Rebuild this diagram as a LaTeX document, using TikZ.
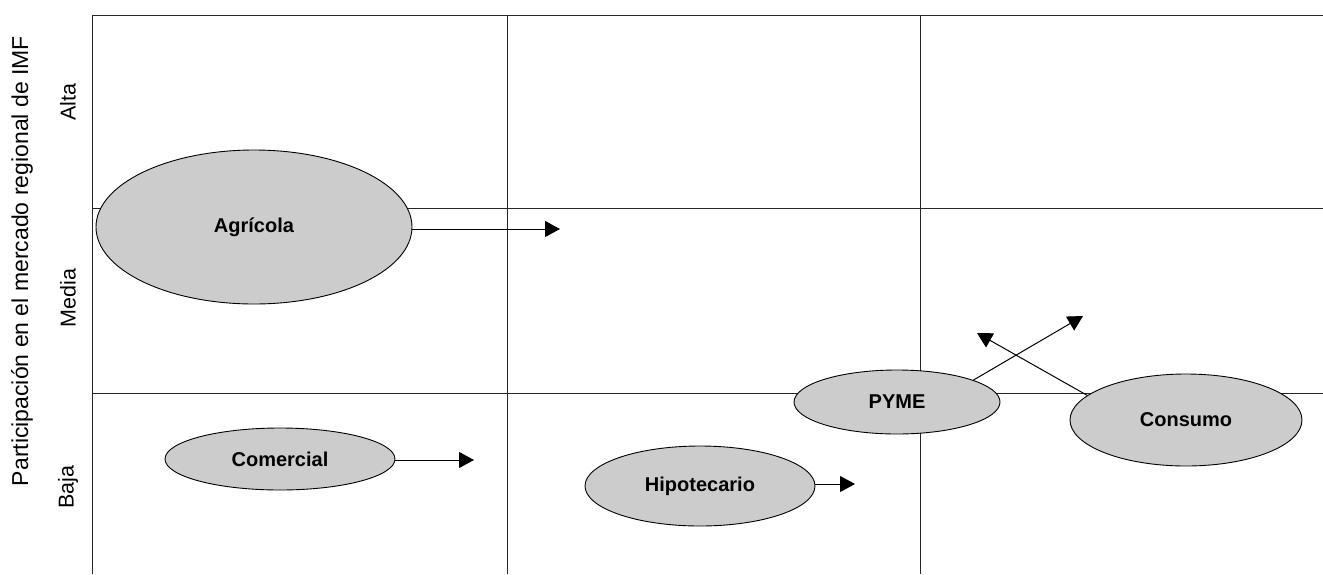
\documentclass[tikz,border=0pt]{standalone}
\usepackage{fontspec}
\setmainfont{Liberation Sans}
\usetikzlibrary{shapes.geometric,arrows.meta}
\begin{document}
\begin{tikzpicture}[x=1pt,y=-1pt,
 grid/.style={draw=black!85, line width=1pt},
 seg/.style={ellipse, draw=black, line width=0.9pt, fill=black!20, inner sep=0pt, font=\bfseries\fontsize{20}{23}\selectfont},
 arr/.style={draw=black, line width=1pt, -{Triangle[length=15pt,width=16pt]}},
 axl/.style={rotate=90, inner sep=0pt, font=\fontsize{21.5}{24}\selectfont}]
\useasboundingbox (0,0) rectangle (1323,574);
% grid
\draw[grid] (92,15) -- (1323,15);
\draw[grid] (92,208) -- (1323,208);
\draw[grid] (92,393) -- (1323,393);
\draw[grid] (92,15) -- (92,574);
\draw[grid] (507,15) -- (507,574);
\draw[grid] (920,15) -- (920,574);
% axis labels
\node[axl, font=\fontsize{23}{26}\selectfont] (ylab) at (22,261) {Participación en el mercado regional de IMF};
\node[axl] (alta) at (68,102) {Alta};
\node[axl] (media) at (68,298) {Media};
\node[axl] (baja) at (68,487) {Baja};
% segments
\node[seg, minimum width=316pt, minimum height=154pt] (agr) at (254,227) {Agrícola};
\node[seg, minimum width=230pt, minimum height=62pt] (com) at (280,459) {Comercial};
\node[seg, minimum width=230pt, minimum height=80pt] (hip) at (700,486) {Hipotecario};
\node[seg, minimum width=206pt, minimum height=64pt] (pyme) at (897,402) {PYME};
\node[seg, minimum width=232pt, minimum height=92pt] (cons) at (1186,420) {Consumo};
% arrow tips
\coordinate (tA) at (560,229);
\coordinate (tC) at (474,460);
\coordinate (tH) at (855,484);
\coordinate (tP) at (1083,316);
\coordinate (tK) at (977,333);
% arrows
\draw[arr] (agr.east |- tA) -- (tA);
\draw[arr] (com.east |- tC) -- (tC);
\draw[arr] (hip.east |- tH) -- (tH);
\draw[arr] (pyme.16) -- (tP);
\draw[arr] (cons.166) -- (tK);
\end{tikzpicture}
\end{document}
